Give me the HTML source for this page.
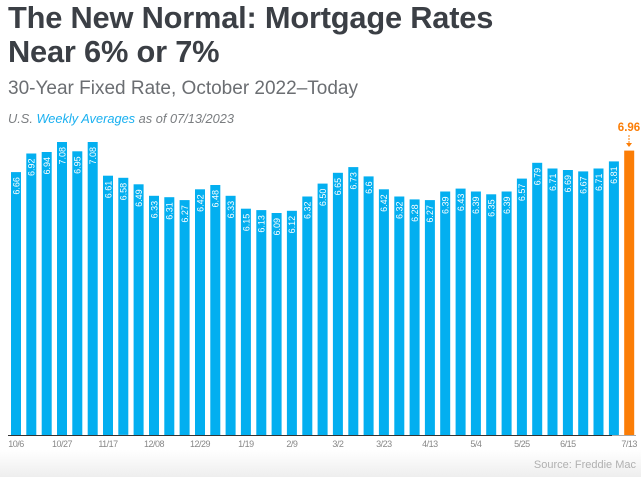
<!DOCTYPE html>
<html><head><meta charset="utf-8"><style>
body{margin:0;width:641px;height:477px;overflow:hidden;background:#fff;font-family:"Liberation Sans",Arial,sans-serif;position:relative}
.t{position:absolute;left:8px;top:1px;font-weight:bold;font-size:30.8px;line-height:34px;color:#3b3f45;letter-spacing:-0.2px}
.s{position:absolute;left:8px;top:78px;font-size:19px;color:#6b6e72}
.u{position:absolute;left:8px;top:111px;font-size:12.8px;font-style:italic;color:#7a7d80}
.u b{font-weight:normal;color:#1ab0f0}
.bg{position:absolute;left:0;top:450px;width:641px;height:27px;background:linear-gradient(#fff,#eeeeee)}
.src{position:absolute;right:5px;top:459px;font-size:11px;color:#b0b0b0}
</style></head><body>
<div class="bg"></div>
<div class="t">The New Normal: Mortgage Rates<br>Near 6% or 7%</div>
<div class="s">30-Year Fixed Rate, October 2022–Today</div>
<div class="u">U.S. <b>Weekly Averages</b> as of 07/13/2023</div>
<svg id="c" width="641" height="477" style="position:absolute;left:0;top:0"></svg>
<div class="src">Source: Freddie Mac</div>
<script>
var v=["6.66","6.92","6.94","7.08","6.95","7.08","6.61","6.58","6.49","6.33","6.31","6.27","6.42","6.48","6.33","6.15","6.13","6.09","6.12","6.32","6.50","6.65","6.73","6.6","6.42","6.32","6.28","6.27","6.39","6.43","6.39","6.35","6.39","6.57","6.79","6.71","6.69","6.67","6.71","6.81","6.96"];
var d=["10/6","10/27","11/17","12/08","12/29","1/19","2/9","3/2","3/23","4/13","5/4","5/25","6/15","7/13"];
var s="";
s+='<line x1="8" y1="435.5" x2="612" y2="435.5" stroke="#333" stroke-width="1"/><line x1="612" y1="435.5" x2="636" y2="435.5" stroke="#aaa" stroke-width="1"/>';
for(var i=0;i<v.length;i++){var x=11+i*15.33,y=142+(7.08-parseFloat(v[i]))*71.7,last=i==v.length-1;
s+='<rect x="'+x.toFixed(1)+'" y="'+y.toFixed(1)+'" width="10" height="'+(435-y).toFixed(1)+'" fill="'+(last?'#fb7d06':'#03aff0')+'"/>';
if(!last){var cx=x+5,ty=y+5;s+='<text transform="translate('+(cx+3.3).toFixed(1)+','+ty.toFixed(1)+') rotate(-90)" text-anchor="end" font-size="9" fill="#fff" font-family="Liberation Sans,sans-serif">'+v[i]+'</text>';}}
for(var j=0;j<d.length;j++){var i2=j*3;if(j==13)i2=40;var cx=11+i2*15.33+5;s+='<text x="'+cx.toFixed(1)+'" y="447" text-anchor="middle" font-size="9" fill="#888" font-family="Liberation Sans,sans-serif" letter-spacing="-0.5">'+d[j]+'</text>';}
s+='<text x="629" y="131" text-anchor="middle" font-size="11.5" font-weight="bold" fill="#fb7d06" font-family="Liberation Sans,sans-serif">6.96</text>';
s+='<line x1="629" y1="135" x2="629" y2="145" stroke="#fb7d06" stroke-width="1" stroke-dasharray="2,1"/><path d="M626 143 L632 143 L629 147 Z" fill="#fb7d06"/>';
document.getElementById("c").innerHTML=s;
</script>
</body></html>
